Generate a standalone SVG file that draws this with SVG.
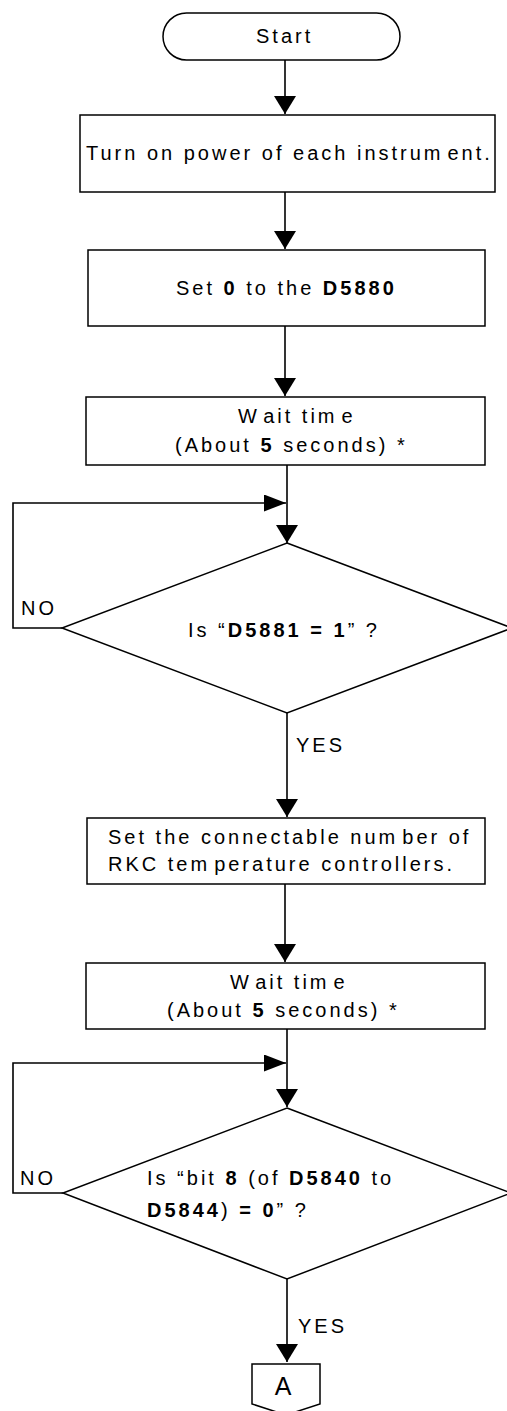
<svg xmlns="http://www.w3.org/2000/svg" width="507" height="1411" viewBox="0 0 507 1411">
<style>
.shape{fill:#fff;stroke:#000;stroke-width:1.5}
.conn{fill:none;stroke:#000;stroke-width:1.6}
.t{font-family:"Liberation Sans",Arial,sans-serif;font-size:20px;letter-spacing:3px;fill:#000}
.b{font-weight:bold}
.big{font-family:"Liberation Sans",Arial,sans-serif;font-size:25px;fill:#000}
</style>
<defs>
<marker id="ad" markerUnits="userSpaceOnUse" viewBox="0 0 18 22" markerWidth="18" markerHeight="22" refX="18" refY="11" orient="auto"><path d="M0,0 L18,11 L0,22 Z" fill="#000"/></marker>
<marker id="ar" markerUnits="userSpaceOnUse" viewBox="0 0 22 17" markerWidth="22" markerHeight="17" refX="22" refY="8.5" orient="auto"><path d="M0,0 L22,8.5 L0,17 Z" fill="#000"/></marker>
</defs>
<rect width="507" height="1411" fill="#fff"/>
<g id="connectors">
<path class="conn" d="M285,60 V114" marker-end="url(#ad)"/>
<path class="conn" d="M285,192 V249" marker-end="url(#ad)"/>
<path class="conn" d="M285,326 V396" marker-end="url(#ad)"/>
<path class="conn" d="M287,465 V543" marker-end="url(#ad)"/>
<path class="conn" d="M287,713 V817" marker-end="url(#ad)"/>
<path class="conn" d="M285,884 V962" marker-end="url(#ad)"/>
<path class="conn" d="M287,1029 V1107" marker-end="url(#ad)"/>
<path class="conn" d="M287,1279 V1362" marker-end="url(#ad)"/>
<path class="conn" d="M62,628 H13 V503 H286" marker-end="url(#ar)"/>
<path class="conn" d="M63,1193 H13 V1063 H286" marker-end="url(#ar)"/>
<text class="t" x="21" y="615">NO</text>
<text class="t" x="20" y="1185">NO</text>
<text class="t" x="296" y="752">YES</text>
<text class="t" x="298" y="1333">YES</text>
</g>
<g id="start">
<rect class="shape" x="163" y="13" width="237" height="47" rx="23.5"/>
<text class="t" x="256" y="43">Start</text>
</g>
<g id="power">
<rect class="shape" x="80" y="115" width="415" height="77"/>
<text class="t" x="86" y="160">Turn on power of each instrum<tspan dx="4">ent.</tspan></text>
</g>
<g id="set0">
<rect class="shape" x="88" y="250" width="397" height="76"/>
<text class="t" x="176" y="295">Set <tspan class="b">0</tspan> to the <tspan class="b">D5880</tspan></text>
</g>
<g id="wait1">
<rect class="shape" x="86" y="397" width="399" height="68"/>
<text class="t" x="238" y="423">W<tspan dx="4">ait tim</tspan><tspan dx="4">e</tspan></text>
<text class="t" x="175" y="452">(About <tspan class="b">5</tspan> seconds) *</text>
</g>
<g id="check1">
<polygon class="shape" points="287,543 512,628 287,713 62,628"/>
<text class="t" x="188" y="637">Is “<tspan class="b">D5881 = 1</tspan>” ?</text>
</g>
<g id="setnum">
<rect class="shape" x="87" y="818" width="398" height="66"/>
<text class="t" x="108" y="844">Set the connectable num<tspan dx="4">ber of</tspan></text>
<text class="t" x="108" y="871">RKC tem<tspan dx="4">perature controllers.</tspan></text>
</g>
<g id="wait2">
<rect class="shape" x="86" y="963" width="399" height="66"/>
<text class="t" x="230" y="989">W<tspan dx="4">ait tim</tspan><tspan dx="4">e</tspan></text>
<text class="t" x="167" y="1017">(About <tspan class="b">5</tspan> seconds) *</text>
</g>
<g id="check2">
<polygon class="shape" points="287,1108 511,1193 287,1279 63,1193"/>
<text class="t" x="147" y="1185">Is “bit <tspan class="b">8</tspan> (of <tspan class="b">D5840</tspan> to</text>
<text class="t" x="147" y="1217"><tspan class="b">D5844</tspan>) <tspan class="b">= 0</tspan>” ?</text>
</g>
<g id="connA">
<path class="shape" d="M252,1364 H320 V1404 L286,1415 L252,1404 Z"/>
<text class="big" x="283" y="1395" text-anchor="middle">A</text>
</g>
</svg>
